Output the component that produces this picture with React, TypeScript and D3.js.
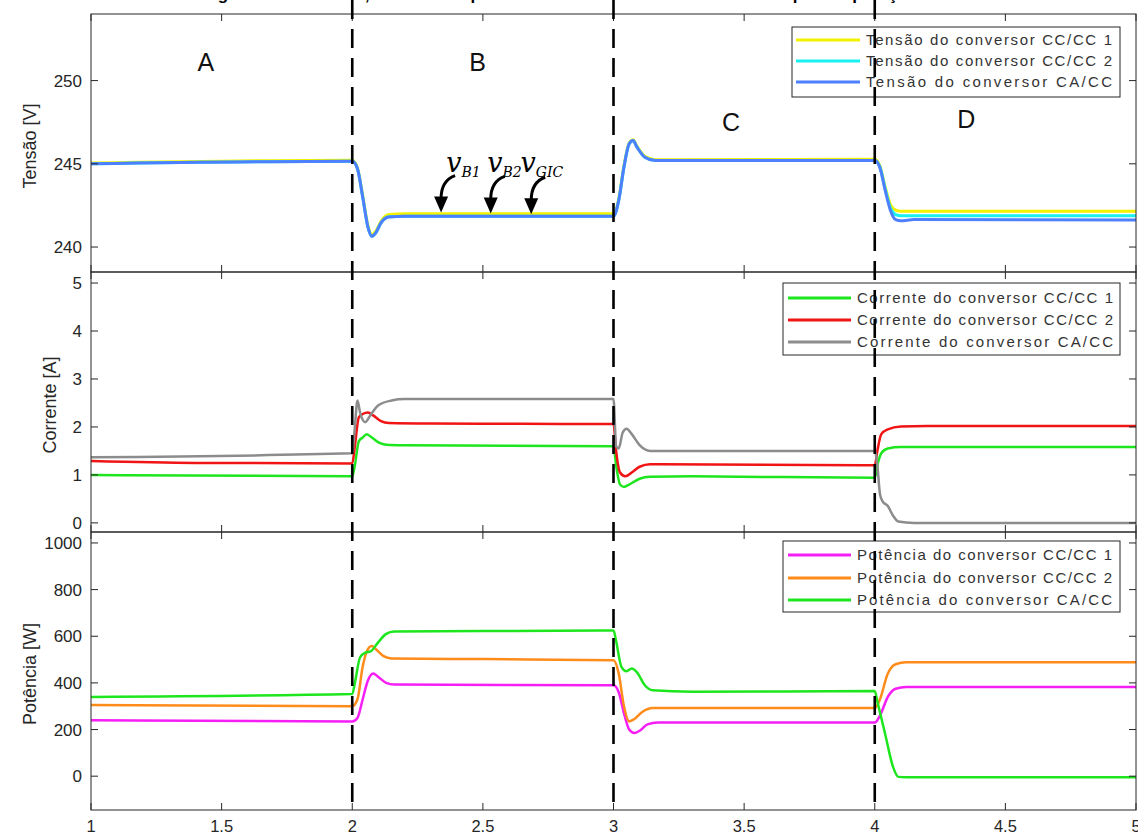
import * as d3 from "d3";

type P = [number, number];

// ticks / categorias
const xTicks = [1, 1.5, 2, 2.5, 3, 3.5, 4, 4.5, 5];
const tensaoTicks = [240, 245, 250];
const correnteTicks = [0, 1, 2, 3, 4, 5];
const potenciaTicks = [0, 200, 400, 600, 800, 1000];
const mudancas = [2, 3, 4];

const etapas = [
  { nome: "A", t: 1.44, v: 251.1 },
  { nome: "B", t: 2.48, v: 251.1 },
  { nome: "C", t: 3.45, v: 247.5 },
  { nome: "D", t: 4.35, v: 247.7 },
];

// anotações das tensões (ponta da seta sobre a curva)
const anotacoes = [
  { sub: "B1", t: 2.34, v: 241.95, tLabel: 2.36 },
  { sub: "B2", t: 2.53, v: 241.9, tLabel: 2.517 },
  { sub: "GIC", t: 2.685, v: 241.85, tLabel: 2.644 },
];

// Tensão [V]
const tensaoCC1: P[] = [
  [1, 245.05], [2.0, 245.22], [2.02, 244.75], [2.04, 243.1], [2.06, 241.3], [2.075, 240.75],
  [2.09, 240.95], [2.11, 241.55], [2.14, 241.95], [2.2, 242.0], [3.0, 242.0], [3.02, 242.9],
  [3.04, 244.9], [3.06, 246.25], [3.075, 246.45], [3.09, 246.05], [3.12, 245.45], [3.16, 245.25],
  [4.0, 245.27], [4.02, 244.85], [4.04, 243.6], [4.06, 242.55], [4.08, 242.22], [4.1, 242.15],
  [5, 242.15],
];
const tensaoCC2: P[] = [
  [1, 245.0], [2.0, 245.15], [2.02, 244.7], [2.04, 243.0], [2.06, 241.2], [2.075, 240.65],
  [2.09, 240.85], [2.11, 241.45], [2.14, 241.82], [2.2, 241.85], [3.0, 241.85], [3.02, 242.8],
  [3.04, 244.8], [3.06, 246.2], [3.075, 246.4], [3.09, 246.0], [3.12, 245.4], [3.16, 245.2],
  [4.0, 245.2], [4.02, 244.8], [4.04, 243.5], [4.06, 242.35], [4.08, 241.95], [4.1, 241.88],
  [5, 241.88],
];
const tensaoCA: P[] = [
  [1, 245.0], [2.0, 245.15], [2.02, 244.7], [2.04, 243.0], [2.06, 241.2], [2.075, 240.65],
  [2.09, 240.85], [2.11, 241.45], [2.14, 241.8], [2.2, 241.85], [3.0, 241.85], [3.02, 242.8],
  [3.04, 244.8], [3.06, 246.2], [3.075, 246.4], [3.09, 246.0], [3.12, 245.4], [3.16, 245.2],
  [4.0, 245.2], [4.02, 244.75], [4.04, 243.4], [4.06, 242.2], [4.08, 241.65], [4.1, 241.58],
  [4.15, 241.65], [5, 241.63],
];

// Corrente [A]
const correnteCC1: P[] = [
  [1, 1.0], [2.0, 0.97], [2.01, 1.2], [2.025, 1.7], [2.04, 1.78], [2.055, 1.85], [2.07, 1.8],
  [2.1, 1.68], [2.13, 1.63], [2.2, 1.62], [3.0, 1.6], [3.01, 1.2], [3.025, 0.8], [3.04, 0.75],
  [3.06, 0.8], [3.1, 0.92], [3.14, 0.96], [3.3, 0.97], [4.0, 0.94], [4.01, 1.2], [4.025, 1.45],
  [4.05, 1.55], [4.1, 1.58], [5, 1.58],
];
const correnteCC2: P[] = [
  [1, 1.29], [1.4, 1.25], [2.0, 1.24], [2.01, 1.6], [2.025, 2.2], [2.04, 2.27], [2.06, 2.3],
  [2.08, 2.24], [2.11, 2.12], [2.14, 2.08], [2.3, 2.07], [3.0, 2.06], [3.01, 1.5], [3.025, 1.05],
  [3.045, 0.97], [3.07, 1.05], [3.1, 1.17], [3.14, 1.22], [4.0, 1.2], [4.01, 1.5], [4.025, 1.85],
  [4.05, 1.95], [4.1, 2.01], [4.2, 2.02], [5, 2.02],
];
const correnteCA: P[] = [
  [1, 1.37], [2.0, 1.45], [2.01, 2.0], [2.02, 2.55], [2.03, 2.3], [2.05, 2.1], [2.07, 2.25],
  [2.1, 2.45], [2.15, 2.55], [2.2, 2.58], [3.0, 2.58], [3.01, 1.6], [3.02, 1.55], [3.035, 1.88],
  [3.05, 1.96], [3.07, 1.85], [3.1, 1.62], [3.14, 1.5], [4.0, 1.5], [4.01, 1.2], [4.02, 0.6],
  [4.03, 0.45], [4.05, 0.35], [4.07, 0.15], [4.09, 0.03], [4.15, 0.0], [5, 0.0],
];

// Potência [W]
const potenciaCC1: P[] = [
  [1, 240], [2.0, 235], [2.02, 250], [2.04, 330], [2.06, 410], [2.08, 440], [2.1, 425],
  [2.13, 400], [2.16, 393], [3.0, 390], [3.02, 360], [3.04, 270], [3.06, 200], [3.08, 185],
  [3.1, 195], [3.13, 222], [3.17, 230], [4.0, 230], [4.02, 260], [4.05, 340], [4.08, 375],
  [4.12, 382], [5, 382],
];
const potenciaCC2: P[] = [
  [1, 305], [2.0, 300], [2.02, 330], [2.04, 470], [2.06, 545], [2.075, 558], [2.09, 545],
  [2.12, 515], [2.15, 505], [2.5, 502], [3.0, 497], [3.02, 440], [3.04, 300], [3.06, 235],
  [3.08, 245], [3.11, 275], [3.15, 292], [4.0, 292], [4.02, 330], [4.05, 440], [4.08, 480],
  [4.12, 488], [5, 488],
];
const potenciaCA: P[] = [
  [1, 340], [2.0, 352], [2.01, 400], [2.03, 510], [2.05, 530], [2.07, 535], [2.1, 575],
  [2.13, 610], [2.16, 620], [2.5, 622], [3.0, 625], [3.01, 580], [3.03, 470], [3.05, 450],
  [3.07, 462], [3.09, 445], [3.12, 390], [3.15, 368], [3.3, 362], [4.0, 365], [4.01, 320],
  [4.04, 180], [4.07, 40], [4.09, -3], [4.12, -5], [5, -5],
];

const W = 1138;
const H = 836;
const left = 91;
const right = 1136;
const fonte = "Arial, 'Liberation Sans', Helvetica, sans-serif";
const cinza = "#262626";

const x = d3.scaleLinear().domain([1, 5]).range([left, right]);

const paineis = [
  {
    top: 14, bottom: 272, domain: [238.5, 254], ticks: tensaoTicks, label: "Tensão [V]", labelX: 30,
    legenda: { x0: 792, x1: 1120, y0: 27, y1: 97, lx0: 796, lx1: 860, tx: 866, tw: 246, rows: [40, 61, 82] },
    series: [
      { nome: "Tensão do conversor CC/CC 1", cor: "#f2f200", dados: tensaoCC1, w: 3 },
      { nome: "Tensão do conversor CC/CC 2", cor: "#19f0f0", dados: tensaoCC2, w: 3 },
      { nome: "Tensão do conversor CA/CC", cor: "#4d7fff", dados: tensaoCA, w: 3 },
    ],
  },
  {
    top: 272, bottom: 532, domain: [-0.19, 5.23], ticks: correnteTicks, label: "Corrente [A]", labelX: 50,
    legenda: { x0: 783, x1: 1120, y0: 283, y1: 355, lx0: 788, lx1: 851, tx: 857, tw: 256, rows: [298, 320, 342] },
    series: [
      { nome: "Corrente do conversor CC/CC 1", cor: "#1ee61e", dados: correnteCC1, w: 2.5 },
      { nome: "Corrente do conversor CC/CC 2", cor: "#f01414", dados: correnteCC2, w: 2.5 },
      { nome: "Corrente do conversor CA/CC", cor: "#8c8c8c", dados: correnteCA, w: 2.5 },
    ],
  },
  {
    top: 532, bottom: 810, domain: [-145, 1047], ticks: potenciaTicks, label: "Potência [W]", labelX: 30,
    legenda: { x0: 783, x1: 1120, y0: 541, y1: 612, lx0: 788, lx1: 851, tx: 857, tw: 255, rows: [555, 578, 600] },
    series: [
      { nome: "Potência do conversor CC/CC 1", cor: "#f51ef5", dados: potenciaCC1, w: 2.5 },
      { nome: "Potência do conversor CC/CC 2", cor: "#ff8c1a", dados: potenciaCC2, w: 2.5 },
      { nome: "Potência do conversor CA/CC", cor: "#1ee61e", dados: potenciaCA, w: 2.5 },
    ],
  },
];

function Painel({ p, last }: { p: (typeof paineis)[number]; last: boolean }) {
  const y = d3.scaleLinear().domain(p.domain).range([p.bottom, p.top]);
  const line = d3
    .line<P>()
    .x((d) => x(d[0]))
    .y((d) => y(d[1]))
    .curve(d3.curveMonotoneX);
  const L = p.legenda;
  const tk = 7;
  return (
    <g>
      <defs>
        <clipPath id={`clip-${p.top}`}>
          <rect x={left} y={p.top} width={right - left} height={p.bottom - p.top} />
        </clipPath>
      </defs>
      <g clipPath={`url(#clip-${p.top})`}>
        {p.series.map((s) => (
          <path key={s.nome} d={line(s.dados) || ""} fill="none" stroke={s.cor} strokeWidth={s.w} strokeLinejoin="round" />
        ))}
      </g>
      <rect x={left} y={p.top} width={right - left} height={p.bottom - p.top} fill="none" stroke={cinza} strokeWidth={1} />
      {xTicks.map((t) => (
        <g key={t}>
          <line x1={x(t)} x2={x(t)} y1={p.bottom} y2={p.bottom - tk} stroke={cinza} />
          <line x1={x(t)} x2={x(t)} y1={p.top} y2={p.top + tk} stroke={cinza} />
          {last && (
            <text x={x(t)} y={832} textAnchor="middle" fontSize={16.5} fill={cinza} fontFamily={fonte}>
              {t}
            </text>
          )}
        </g>
      ))}
      {p.ticks.map((t) => (
        <g key={t}>
          <line x1={left} x2={left + tk} y1={y(t)} y2={y(t)} stroke={cinza} />
          <line x1={right} x2={right - tk} y1={y(t)} y2={y(t)} stroke={cinza} />
          <text x={left - 9} y={y(t)} dy="0.36em" textAnchor="end" fontSize={17} fill={cinza} fontFamily={fonte}>
            {t}
          </text>
        </g>
      ))}
      <text
        transform={`translate(${p.labelX},${(p.top + p.bottom) / 2 + 3}) rotate(-90)`}
        textAnchor="middle"
        dy="0.35em"
        fontSize={18}
        fill={cinza}
        fontFamily={fonte}
      >
        {p.label}
      </text>
      <rect x={L.x0} y={L.y0} width={L.x1 - L.x0} height={L.y1 - L.y0} fill="white" stroke={cinza} strokeWidth={1} />
      {p.series.map((s, i) => (
        <g key={s.nome}>
          <line x1={L.lx0} x2={L.lx1} y1={L.rows[i]} y2={L.rows[i]} stroke={s.cor} strokeWidth={3} />
          <text
            x={L.tx}
            y={L.rows[i]}
            dy="0.36em"
            fontSize={15}
            fill="#333"
            fontFamily={fonte}
            textLength={L.tw}
            lengthAdjust="spacing"
          >
            {s.nome}
          </text>
        </g>
      ))}
    </g>
  );
}

export default function App() {
  const yV = d3.scaleLinear().domain(paineis[0].domain).range([paineis[0].bottom, paineis[0].top]);
  return (
    <svg
      width={W}
      height={H}
      viewBox={`0 0 ${W} ${H}`}
      style={{ position: "absolute", left: 0, top: 0, display: "block", background: "white" }}
    >
      <rect width={W} height={H} fill="white" />
      <text x={560} y={-0.5} textAnchor="middle" fontWeight="bold" fontSize={17} fontFamily={fonte} fill="#000">
        Figura 12 – Tensões, correntes e potências dos conversores em cada etapa de operação
      </text>
      {paineis.map((p, i) => (
        <Painel key={p.label} p={p} last={i === paineis.length - 1} />
      ))}
      {etapas.map((e) => (
        <text key={e.nome} x={x(e.t)} y={yV(e.v)} dy="0.36em" textAnchor="middle" fontSize={25} fontFamily={fonte} fill="#111">
          {e.nome}
        </text>
      ))}
      {anotacoes.map((a) => {
        const tx = x(a.t);
        const ty = yV(a.v) - 2;
        const lx = x(a.tLabel);
        return (
          <g key={a.sub}>
            <text x={lx} y={172} fontFamily="'DejaVu Serif', 'Liberation Serif', serif" fontStyle="italic" fill="#000">
              <tspan fontSize={27}>v</tspan>
              <tspan fontSize={14} dy={5}>{a.sub}</tspan>
            </text>
            <path
              d={`M${tx + 14},${ty - 37} Q${tx},${ty - 32} ${tx},${ty - 14}`}
              fill="none"
              stroke="#000"
              strokeWidth={3}
            />
            <path d={`M${tx - 7},${ty - 16} L${tx + 7},${ty - 16} L${tx},${ty} Z`} fill="#000" />
          </g>
        );
      })}
      {mudancas.map((t) => (
        <line key={t} x1={x(t)} x2={x(t)} y1={0} y2={810} stroke="#000" strokeWidth={2.6} strokeDasharray="19 10" />
      ))}
    </svg>
  );
}
